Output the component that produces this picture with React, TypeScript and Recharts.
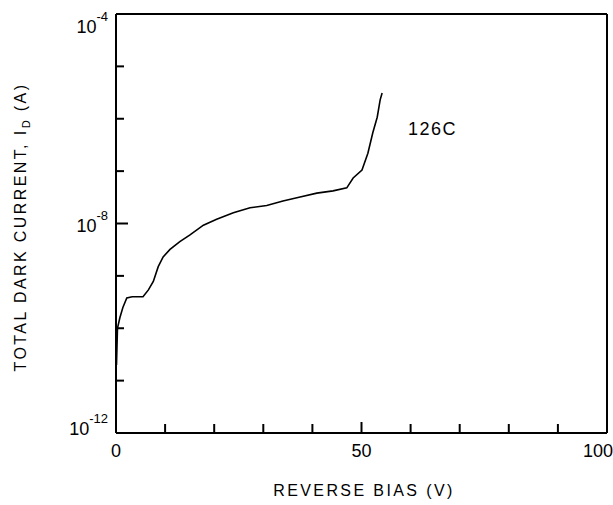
import { LineChart, Line, XAxis, YAxis, ReferenceLine, Customized } from 'recharts';

// reverse bias (V)
const bias = [
  0.1, 0.3, 0.8, 1.4, 2.2, 3.3, 5.5, 6.6, 7.6, 8.6, 9.6, 11, 13, 15, 17.8, 20.5, 23.9, 27.3, 30.7, 34,
  37.5, 40.9, 44.2, 47, 48.3, 50.1, 51.3, 52.3, 53.2, 53.8, 54.2,
];
// total dark current (A) at 126C
const current = [
  2.0e-11, 1.0e-10, 1.6e-10, 2.5e-10, 3.8e-10, 4.0e-10, 4.0e-10, 5.4e-10, 7.8e-10, 1.5e-9, 2.3e-9, 3.2e-9,
  4.5e-9, 6.0e-9, 9.3e-9, 1.2e-8, 1.6e-8, 2.0e-8, 2.2e-8, 2.7e-8, 3.2e-8, 3.8e-8, 4.2e-8, 4.8e-8, 7.4e-8,
  1.05e-7, 2.2e-7, 5.4e-7, 1.07e-6, 2.3e-6, 3.1e-6,
];

const xTicks = [0, 10, 20, 30, 40, 50, 60, 70, 80, 90, 100];
const xLabels = [0, 50, 100];
const yTicks = [1e-12, 1e-11, 1e-10, 1e-9, 1e-8, 1e-7, 1e-6, 1e-5, 1e-4];
const yLabelExps = [-12, -8, -4];

const data = bias.map((v, i) => ({ v, i: current[i] }));

const FONT = 'Arial, "Liberation Sans", sans-serif';

function XTick(props: any) {
  const { x, y, payload } = props;
  const v = payload.value;
  const labeled = xLabels.includes(v);
  let anchor: 'middle' | 'end' = 'middle';
  let tx = x;
  if (v === 100) {
    anchor = 'end';
    tx = x + 6;
  }
  return (
    <g>
      <line x1={x} x2={x} y1={y} y2={y - (labeled ? 11 : 9)} stroke="#000" strokeWidth={2} />
      {labeled && (
        <text x={tx} y={y + 24} textAnchor={anchor} fontSize={18} fontFamily={FONT} fill="#000">
          {v}
        </text>
      )}
    </g>
  );
}

function YTick(props: any) {
  const { x, y, payload } = props;
  const exp = Math.round(Math.log10(payload.value));
  const labeled = yLabelExps.includes(exp);
  const dy = exp === -4 ? 19 : exp === -8 ? 8 : 2;
  return (
    <g>
      <line x1={x} x2={x + (labeled ? 12 : 8)} y1={y} y2={y} stroke="#000" strokeWidth={2} />
      {labeled && (
        <text x={108} y={y + dy} textAnchor="end" fontSize={18} fontFamily={FONT} fill="#000">
          <tspan>10</tspan>
          <tspan dy={-12} fontSize={13}>{`-${-exp}`}</tspan>
        </text>
      )}
    </g>
  );
}

function Texts() {
  return (
    <g fontFamily={FONT} fill="#000">
      <text transform="translate(26,227) rotate(-90)" textAnchor="middle" fontSize={16} letterSpacing={2.4}>
        <tspan>TOTAL DARK CURRENT, I</tspan>
        <tspan fontSize={11} dy={4}>D</tspan>
        <tspan dy={-4}> (A)</tspan>
      </text>
      <text x={364} y={496} textAnchor="middle" fontSize={16} letterSpacing={2.4}>
        REVERSE BIAS (V)
      </text>
      <text x={408} y={135} fontSize={18} letterSpacing={1.5}>
        126C
      </text>
    </g>
  );
}

export default function App() {
  return (
    <div style={{ position: 'absolute', left: 0, top: 0, width: 613, height: 505, background: '#fff' }}>
      <LineChart width={613} height={505} data={data} margin={{ top: 14, right: 6, bottom: 71, left: 115 }}>
        <XAxis
          dataKey="v"
          type="number"
          domain={[0, 100]}
          ticks={xTicks}
          height={1}
          tickSize={0}
          tickMargin={0}
          tick={XTick}
          axisLine={{ stroke: '#000', strokeWidth: 2 }}
          interval={0}
        />
        <YAxis
          dataKey="i"
          type="number"
          scale="log"
          domain={[1e-12, 1e-4]}
          ticks={yTicks}
          allowDataOverflow
          width={1}
          tickSize={0}
          tickMargin={0}
          tick={YTick}
          axisLine={{ stroke: '#000', strokeWidth: 2 }}
          interval={0}
        />
        <ReferenceLine y={1e-4} stroke="#000" strokeWidth={2} />
        <ReferenceLine x={100} stroke="#000" strokeWidth={2} />
        <Line
          type="linear"
          dataKey="i"
          stroke="#000"
          strokeWidth={1.6}
          dot={false}
          isAnimationActive={false}
        />
        <Customized component={Texts} />
      </LineChart>
    </div>
  );
}
